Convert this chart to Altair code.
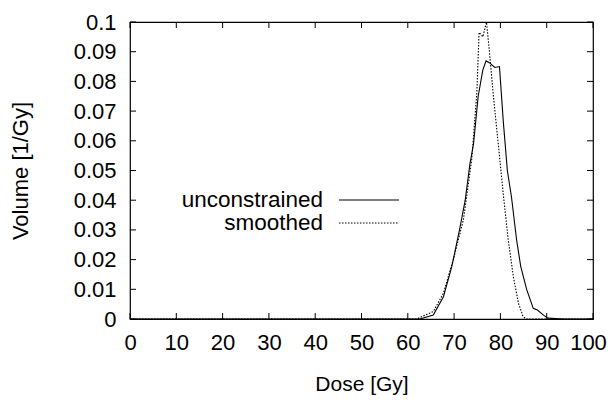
import altair as alt
import pandas as pd

# Unconstrained dose-volume histogram (differential)
dose_unc = [0, 60.0, 62.6, 65.5, 67.7, 69.5, 71.3, 72.4, 73.4, 74.2, 75.2, 76.2, 76.9, 77.6,
            78.8, 79.8, 80.6, 81.5, 82.4, 83.5, 84.4, 85.7, 87.1, 88.0, 89.3, 90.3, 93.6, 100]
vol_unc = [0, 0, 0.0, 0.0013, 0.0075, 0.0176, 0.031, 0.040, 0.052, 0.059, 0.075, 0.0838, 0.0869,
           0.0863, 0.0847, 0.0850, 0.067, 0.050, 0.041, 0.0266, 0.0176, 0.0098, 0.0036, 0.003,
           0.0013, 0.0003, 0.0, 0]

# Smoothed
dose_smo = [0, 60.0, 61.9, 65.5, 67.7, 69.8, 72.0, 73.8, 74.9, 75.4, 76.2, 77.0, 77.6, 78.5,
            79.6, 80.6, 81.7, 82.8, 83.9, 84.9, 85.6, 100]
vol_smo = [0, 0, 0.0, 0.0025, 0.0087, 0.0199, 0.0333, 0.0535, 0.076, 0.0965, 0.095, 0.0999,
           0.0906, 0.0749, 0.058, 0.0423, 0.0266, 0.0142, 0.0053, 0.0008, 0.0, 0]

series_names = ["unconstrained", "smoothed"]
x_ticks = [0, 10, 20, 30, 40, 50, 60, 70, 80, 90, 100]
y_ticks = [0, 0.01, 0.02, 0.03, 0.04, 0.05, 0.06, 0.07, 0.08, 0.09, 0.1]

W, H = 463, 297
FONT = "Liberation Sans"
TICK = 6

unc = pd.DataFrame({"dose": dose_unc, "volume": vol_unc})
smo = pd.DataFrame({"dose": dose_smo, "volume": vol_smo})
xt = pd.DataFrame({"dose": x_ticks})
yt = pd.DataFrame({"volume": y_ticks})

xscale = alt.Scale(domain=[0, 100], nice=False, zero=False)
yscale = alt.Scale(domain=[0, 0.1], nice=False)

xaxis = alt.Axis(values=x_ticks, title="Dose [Gy]", grid=False, ticks=False, tickSize=0,
                 domain=False, labelPadding=13, titlePadding=20, titleFontSize=21, format="d",
                 labelOverlap=False, labelFlush=False,
                 labelOffset=alt.condition("datum.value == 100", alt.value(-5), alt.value(0)))
yaxis = alt.Axis(values=y_ticks, title="Volume [1/Gy]", grid=False, ticks=False, tickSize=0,
                 domain=False, labelPadding=14, titlePadding=41, format="~g",
                 labelOverlap=False, labelFlush=False)

X = alt.X("dose:Q", scale=xscale, axis=xaxis)
Y = alt.Y("volume:Q", scale=yscale, axis=yaxis)

line_unc = alt.Chart(unc).mark_line(color="black", strokeWidth=1.1, clip=True).encode(x=X, y=Y)
line_smo = alt.Chart(smo).mark_line(color="black", strokeWidth=1.1, strokeDash=[1.5, 1.5],
                                    clip=True).encode(x=X, y=Y)

tick_layers = [
    alt.Chart(xt).mark_rule(color="black", strokeWidth=1).encode(
        x=X, y=alt.value(H), y2=alt.value(H - TICK)),
    alt.Chart(xt).mark_rule(color="black", strokeWidth=1).encode(
        x=X, y=alt.value(0), y2=alt.value(TICK)),
    alt.Chart(yt).mark_rule(color="black", strokeWidth=1).encode(
        y=Y, x=alt.value(0), x2=alt.value(TICK)),
    alt.Chart(yt).mark_rule(color="black", strokeWidth=1).encode(
        y=Y, x=alt.value(W), x2=alt.value(W - TICK)),
]

legend_layers = []
for i, name in enumerate(series_names):
    ly = 178 + i * 23
    legend_layers.append(
        alt.Chart(pd.DataFrame({"name": [name]})).mark_text(
            align="right", baseline="middle", font=FONT, fontSize=22.5, color="black"
        ).encode(text="name:N", x=alt.value(193), y=alt.value(ly))
    )
    rule_kwargs = dict(color="black", strokeWidth=1.1)
    if i == 1:
        rule_kwargs["strokeDash"] = [1.5, 1.5]
    legend_layers.append(
        alt.Chart(pd.DataFrame({"name": [name]})).mark_rule(**rule_kwargs).encode(
            x=alt.value(209), x2=alt.value(269), y=alt.value(ly))
    )

chart = alt.layer(line_unc, line_smo, *tick_layers, *legend_layers).properties(
    width=W, height=H,
    autosize=alt.AutoSizeParams(type="none"),
    padding={"left": 122, "top": 14, "right": 14, "bottom": 76},
    background="white",
).configure_view(stroke="black", strokeWidth=1.2).configure_axis(
    labelFont=FONT, titleFont=FONT, labelFontSize=22, titleFontSize=22,
    labelColor="black", titleColor="black", titleFontWeight="normal",
)

chart.save("out.html", embed_options={"renderer": "svg", "actions": False})
